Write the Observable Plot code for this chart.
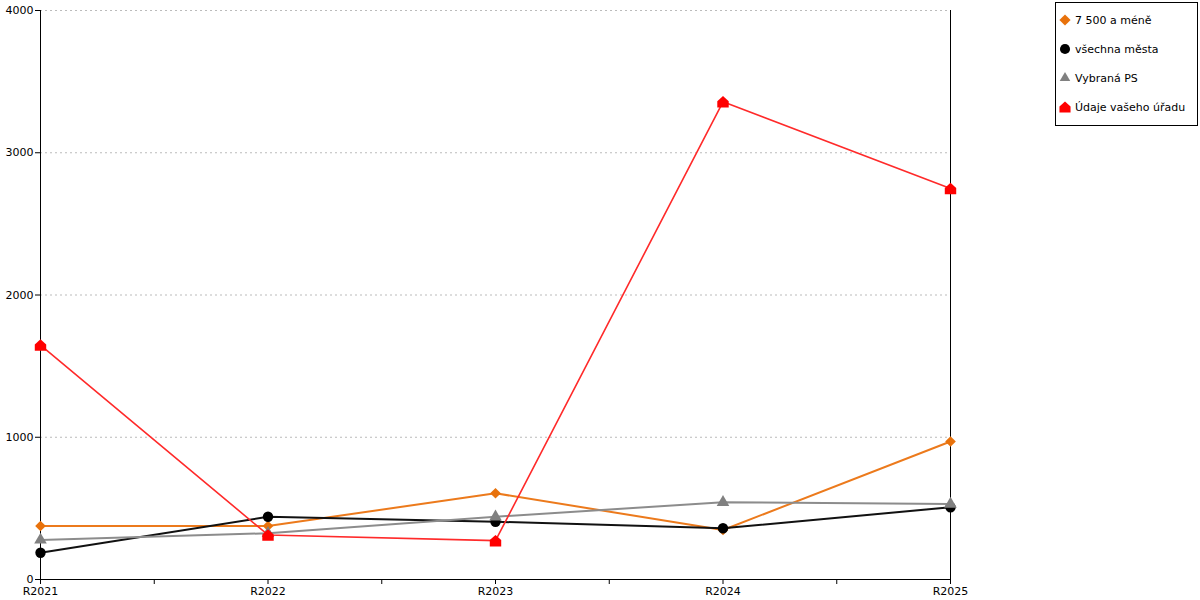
<!DOCTYPE html>
<html>
<head>
<meta charset="utf-8">
<script src="https://cdn.jsdelivr.net/npm/d3@7"></script>
<script src="https://cdn.jsdelivr.net/npm/@observablehq/plot@0.6"></script>
<style>
  body { margin: 0; background: #fff; font-family: "DejaVu Sans", sans-serif; }
  #wrap { position: relative; width: 1200px; height: 600px; }
  #legend { position: absolute; left: 1055px; top: 2px; width: 143px; height: 124px; border: 1px solid #000; background: #fff; font-size: 11px; color: #000; box-sizing: border-box; }
  .item { position: absolute; left: 3px; height: 16px; display: flex; align-items: center; white-space: nowrap; }
  .item svg { margin-right: 4px; }
</style>
</head>
<body>
<div id="wrap"><div id="chart"></div><div id="legend"></div></div>
<script>
const years = ["R2021", "R2022", "R2023", "R2024", "R2025"];
const seriesNames = ["7 500 a méně", "všechna města", "Vybraná PS", "Údaje vašeho úřadu"];
const small = [376, 376, 606, 348, 970];
const allCities = [188, 441, 406, 360, 508];
const selectedPS = [278, 325, 441, 543, 530];
const yourOffice = [1648, 313, 273, 3358, 2749];
const yTicks = [0, 1000, 2000, 3000, 4000];

const colors = ["#e8720c", "#000000", "#808080", "#ff0000"];
const lineColors = ["#ec7a1c", "#111111", "#8c8c8c", "#ff2a2a"];
const lineWidths = [2, 2, 2, 1.6];

const house = {
  draw(ctx, size) {
    const w = Math.sqrt(size) * 0.62;
    ctx.moveTo(-w, w);
    ctx.lineTo(w, w);
    ctx.lineTo(w, -0.1 * w);
    ctx.lineTo(0, -w);
    ctx.lineTo(-w, -0.1 * w);
    ctx.closePath();
  }
};
const symbols = ["diamond2", "circle", "triangle2", house];
const radii = [4.8, 5.2, 6, 5.2];

const values = [small, allCities, selectedPS, yourOffice];
const rows = values.map((vals, s) => vals.map((v, i) => ({s, i, v})));

const marks = [
  Plot.ruleY(yTicks.filter(d => d > 0), {x1: 0, x2: 4, stroke: "#bbb", strokeDasharray: "2,3"}),
  Plot.axisY({ticks: yTicks, tickFormat: d => String(d), tickSize: 5, tickPadding: 2, fontSize: 11, label: null, stroke: "#000"}),
  Plot.axisX({ticks: d3.range(0, 4.01, 0.5), tickFormat: d => Number.isInteger(d) ? years[d] : "", tickSize: 5, tickPadding: 3, fontSize: 11, label: null}),
  Plot.ruleX([0, 4], {y1: 0, y2: 4000, stroke: "#000"}),
  Plot.ruleY([0], {x1: 0, x2: 4, stroke: "#000"})
];
rows.forEach((r, s) => {
  marks.push(Plot.line(r, {x: "i", y: "v", stroke: lineColors[s], strokeWidth: lineWidths[s]}));
  marks.push(Plot.dot(r, {x: "i", y: "v", fill: colors[s], symbol: symbols[s], r: radii[s], stroke: "none"}));
});

const chart = Plot.plot({
  width: 1200,
  height: 600,
  marginLeft: 40,
  marginRight: 250,
  marginTop: 10,
  marginBottom: 21,
  style: {fontFamily: "DejaVu Sans, sans-serif", fontSize: "11px", color: "#000", background: "#fff"},
  x: {domain: [0, 4]},
  y: {domain: [0, 4000]},
  marks
});
document.getElementById("chart").appendChild(chart);

const legend = document.getElementById("legend");
const tops = [9, 38, 67, 96];
seriesNames.forEach((name, s) => {
  const item = document.createElement("div");
  item.className = "item";
  item.style.top = tops[s] + "px";
  const sym = typeof symbols[s] === "string"
    ? d3.symbol(s === 0 ? d3.symbolDiamond2 : s === 1 ? d3.symbolCircle : d3.symbolTriangle2, 80)()
    : d3.symbol(house, 80)();
  const svg = d3.create("svg").attr("width", 12).attr("height", 14);
  svg.append("path").attr("d", sym).attr("transform", "translate(6,7)").attr("fill", colors[s]);
  item.appendChild(svg.node());
  const t = document.createElement("span");
  t.textContent = name;
  item.appendChild(t);
  legend.appendChild(item);
});
</script>
</body>
</html>
